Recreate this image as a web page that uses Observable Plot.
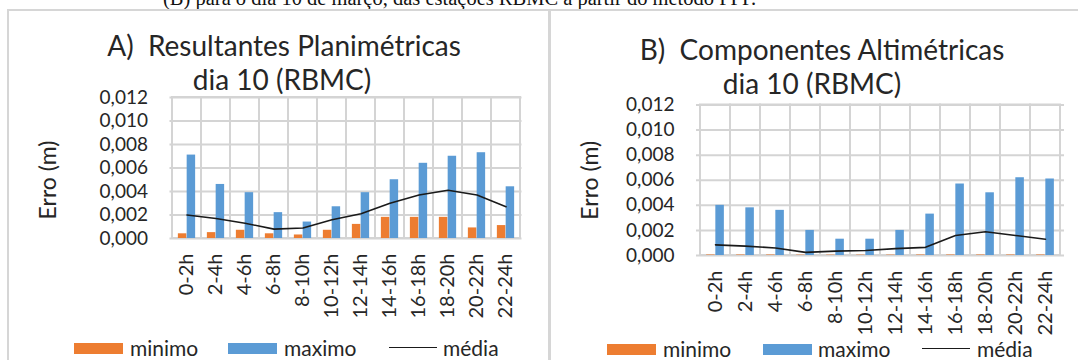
<!DOCTYPE html>
<html>
<head>
<meta charset="utf-8">
<script src="https://cdn.jsdelivr.net/npm/d3@7"></script>
<script src="https://cdn.jsdelivr.net/npm/@observablehq/plot@0.6"></script>
<style>
  html, body { margin: 0; padding: 0; background: #fff; }
  #wrap { position: relative; width: 1078px; height: 360px; overflow: hidden; background: #fff; font-family: Lato, "Open Sans", sans-serif; color: #262626; }
  .abs { position: absolute; }
  .title { position: absolute; font-size: 28px; line-height: 28px; white-space: nowrap; transform: translateX(-50%); color: #262626; }
  .legtxt { position: absolute; font-size: 21px; line-height: 21px; white-space: nowrap; color: #262626; }
  .sw { position: absolute; width: 49px; height: 11px; }
  .ln { position: absolute; height: 0; border-top: 1.5px solid #1a1a1a; }
  .caption { position: absolute; left: 163px; top: -12px; font-family: "Liberation Serif", "DejaVu Serif", serif; font-size: 20.5px; line-height: 21px; white-space: nowrap; color: #111; }
</style>
</head>
<body>
<div id="wrap">
  <div class="caption">(B) para o dia 10 de março, das estações RBMC a partir do método PPP.</div>
  <div class="abs" style="left:7px; top:9px; width:1071px; height:2px; background:#d6d6d6;"></div>
  <div class="abs" style="left:7px; top:9px; width:2px; height:351px; background:#d6d6d6;"></div>
  <div class="abs" style="left:548px; top:9px; width:3px; height:351px; background:#d6d6d6;"></div>
  <div id="pA" class="abs" style="left:0; top:0;"></div>
  <div id="pB" class="abs" style="left:549px; top:0;"></div>
  <div class="title" style="left:284px; top:31px;">A)&nbsp; Resultantes Planimétricas</div>
  <div class="title" style="left:282px; top:65px;">dia 10 (RBMC)</div>
  <div class="title" style="left:822px; top:35px;">B)&nbsp; Componentes Altimétricas</div>
  <div class="title" style="left:812px; top:69px;">dia 10 (RBMC)</div>
  <div id="legA"></div>
  <div id="legB"></div>
</div>
<script>
// ---- data ----
const cats = ["0-2h","2-4h","4-6h","6-8h","8-10h","10-12h","12-14h","14-16h","16-18h","18-20h","20-22h","22-24h"];

const minimoA = [0.0004, 0.0005, 0.0007, 0.0004, 0.0003, 0.0007, 0.0012, 0.0018, 0.0018, 0.0018, 0.0009, 0.0011];
const maximoA = [0.0071, 0.0046, 0.0039, 0.0022, 0.0014, 0.0027, 0.0039, 0.0050, 0.0064, 0.0070, 0.0073, 0.0044];
const mediaA  = [0.0020, 0.0017, 0.0013, 0.0008, 0.0009, 0.0016, 0.0021, 0.0030, 0.0037, 0.0041, 0.0037, 0.0027];

const minimoB = [0.00004, 0.00004, 0.00004, 0.00003, 0.00003, 0.00003, 0.00003, 0.00004, 0.00004, 0.00004, 0.00004, 0.00004];
const maximoB = [0.0040, 0.0038, 0.0036, 0.0020, 0.0013, 0.0013, 0.0020, 0.0033, 0.0057, 0.0050, 0.0062, 0.0061];
const mediaB  = [0.00085, 0.00075, 0.0006, 0.00025, 0.00035, 0.0004, 0.00055, 0.00065, 0.0016, 0.0019, 0.0016, 0.0013];

const yTicks = [0, 0.002, 0.004, 0.006, 0.008, 0.010, 0.012];
const yLabel = "Erro (m)";
const seriesNames = ["minimo", "maximo", "média"];
const seriesColors = ["#ED7D31", "#5B9BD5", "#1a1a1a"];

const fmt = d => d3.format(".3f")(d).replace(".", ",");

function panel({mins, maxs, meds, width, height, mL, mR, mT, mB, labelDx, labelDy}) {
  const data = cats.map((c, i) => ({cat: c, min: mins[i], max: maxs[i], med: meds[i]}));
  const bw = (width - mL - mR) / cats.length;
  const barW = bw * 0.3;
  return Plot.plot({
    width, height,
    marginLeft: mL, marginRight: mR, marginTop: mT, marginBottom: mB,
    style: {fontFamily: "Lato, 'Open Sans', sans-serif", fontSize: "19px", color: "#262626", background: "transparent", overflow: "visible"},
    x: {type: "band", domain: cats, padding: 0},
    y: {domain: [0, 0.012]},
    marks: [
      Plot.ruleY(yTicks, {stroke: "#d4d4d4", strokeWidth: 2}),
      Plot.barY(cats, {x: d => d, y1: 0, y2: 0.012, fill: "none", stroke: "#d4d4d4", strokeWidth: 2}),
      Plot.barY(data, {x: "cat", y: "min", fill: seriesColors[0], insetLeft: bw / 2 - barW, insetRight: bw / 2}),
      Plot.barY(data, {x: "cat", y: "max", fill: seriesColors[1], insetLeft: bw / 2, insetRight: bw / 2 - barW}),
      Plot.lineY(data, {x: "cat", y: "med", stroke: seriesColors[2], strokeWidth: 1.6}),
      Plot.axisY({ticks: yTicks, tickFormat: fmt, tickSize: 0, tickPadding: 22, label: null}),
      Plot.text([yLabel], {text: d => d, frameAnchor: "left", textAnchor: "middle", lineAnchor: "middle", rotate: -90, dx: labelDx, dy: labelDy, fontSize: 23, fill: "#262626"}),
      Plot.axisX({tickRotate: -90, tickSize: 0, tickPadding: 15, label: null, fontSize: 20})
    ]
  });
}

document.getElementById("pA").appendChild(panel({
  mins: minimoA, maxs: maximoA, meds: mediaA,
  width: 549, height: 360, mL: 169.5, mR: 27.5, mT: 97, mB: 122, labelDx: -121, labelDy: 12
}));
document.getElementById("pB").appendChild(panel({
  mins: minimoB, maxs: maximoB, meds: mediaB,
  width: 529, height: 360, mL: 147, mR: 14, mT: 104.5, mB: 105, labelDx: -106, labelDy: 0
}));

// legend item positions (swatch left, text left) per panel
function legend(el, xs, top) {
  seriesNames.forEach((name, i) => {
    const s = document.createElement("div");
    if (i < 2) {
      s.className = "sw"; s.style.background = seriesColors[i];
      s.style.left = xs[i][0] + "px"; s.style.top = (top - 5.5) + "px";
    } else {
      s.className = "ln"; s.style.left = xs[i][0] + "px"; s.style.width = "48px";
      s.style.top = (top - 0.75) + "px";
    }
    el.appendChild(s);
    const t = document.createElement("div");
    t.className = "legtxt";
    t.textContent = name;
    t.style.left = xs[i][1] + "px";
    t.style.top = (top - 11) + "px";
    el.appendChild(t);
  });
}
legend(document.getElementById("legA"), [[74, 130], [228, 284], [389, 443]], 348);
legend(document.getElementById("legB"), [[607, 663], [763, 818], [922, 977]], 349);
</script>
</body>
</html>
